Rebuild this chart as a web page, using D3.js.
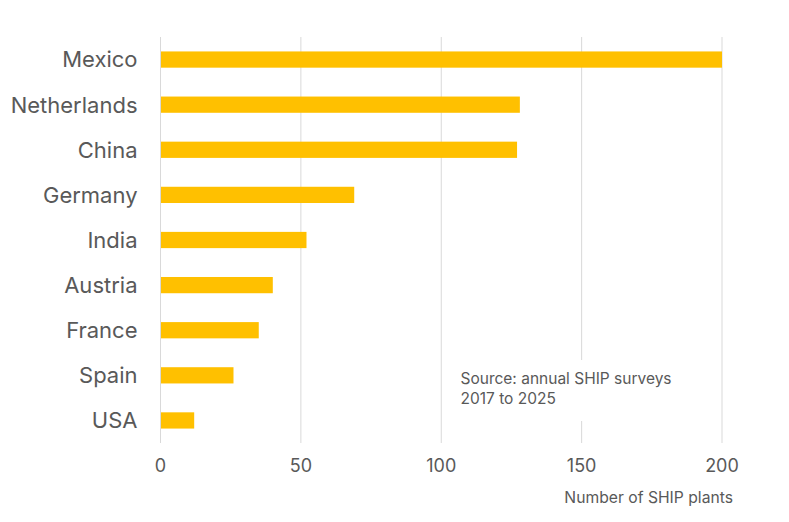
<!DOCTYPE html>
<html>
<head>
<meta charset="utf-8">
<script src="https://cdn.jsdelivr.net/npm/d3@7"></script>
<style>
  body { margin: 0; background: #fff; }
  text { font-family: Inter, "Noto Sans", sans-serif; fill: #595959; }
</style>
</head>
<body>
<svg class="chart" width="789" height="522"></svg>
<script>
// données
const countries = ["Mexico", "Netherlands", "China", "Germany", "India", "Austria", "France", "Spain", "USA"];
const plants = [200, 128, 127, 69, 52, 40, 35, 26, 12];
const ticks = [0, 50, 100, 150, 200];

const svg = d3.select(".chart");
const plotLeft = 160.5, plotRight = 722, plotTop = 37, plotBottom = 443;

const x = d3.scaleLinear().domain([0, 200]).range([plotLeft, plotRight]);
const y = d3.scaleBand().domain(countries).range([plotTop, plotBottom]).paddingInner(0.64).paddingOuter(0.32);

// grille
svg.append("g")
    .selectAll("line")
    .data(ticks)
    .enter()
    .append("line")
    .attr("x1", d => x(d))
    .attr("x2", d => x(d))
    .attr("y1", plotTop)
    .attr("y2", plotBottom)
    .attr("stroke", "#d9d9d9")
    .attr("stroke-width", 1);

// barres
svg.append("g")
    .selectAll("rect")
    .data(plants)
    .enter()
    .append("rect")
    .attr("x", x(0) + 0.5)
    .attr("y", (d, i) => y(countries[i]))
    .attr("width", d => x(d) - x(0) - 0.5)
    .attr("height", y.bandwidth())
    .attr("fill", "#FFC000");

// étiquettes pays
svg.append("g")
    .selectAll("text")
    .data(countries)
    .enter()
    .append("text")
    .text(d => d)
    .attr("x", 137.5)
    .attr("y", d => y(d) + y.bandwidth() / 2)
    .attr("dy", "0.36em")
    .attr("text-anchor", "end")
    .attr("font-size", 22);

// graduations
svg.append("g")
    .selectAll("text")
    .data(ticks)
    .enter()
    .append("text")
    .text(d => d)
    .attr("x", d => x(d))
    .attr("y", 466)
    .attr("dy", "0.36em")
    .attr("text-anchor", "middle")
    .attr("font-size", 18);

// titre de l'axe
svg.append("text")
    .text("Number of SHIP plants")
    .attr("x", 733)
    .attr("y", 497)
    .attr("dy", "0.36em")
    .attr("text-anchor", "end")
    .attr("font-size", 15.7);

// source
svg.append("rect")
    .attr("x", 452).attr("y", 360)
    .attr("width", 240).attr("height", 61)
    .attr("fill", "#fff");
const src = svg.append("text")
    .attr("x", 460.5)
    .attr("y", 378)
    .attr("font-size", 15.5);
src.append("tspan").attr("x", 460.5).attr("dy", "0.36em").text("Source: annual SHIP surveys");
src.append("tspan").attr("x", 460.5).attr("dy", "1.3em").text("2017 to 2025");
</script>
</body>
</html>
